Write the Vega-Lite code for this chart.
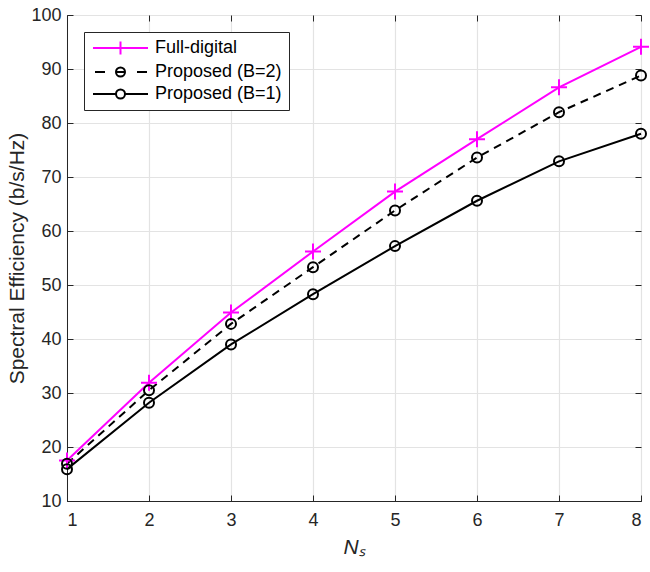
{
  "$schema": "https://vega.github.io/schema/vega-lite/v6.json",
  "width": 574,
  "height": 486,
  "autosize": "none",
  "padding": {"left": 67, "top": 15, "right": 9, "bottom": 71},
  "background": "white",
  "config": {
    "font": "Liberation Sans",
    "view": {"stroke": "#262626", "strokeWidth": 1},
    "axis": {
      "labelFont": "Liberation Sans",
      "labelFontSize": 18,
      "labelColor": "#262626",
      "titleFont": "Liberation Sans",
      "titleColor": "#262626",
      "titleFontWeight": "normal",
      "domainColor": "#262626",
      "tickColor": "#262626",
      "gridColor": "#e3e3e3",
      "gridWidth": 1.2
    }
  },
  "data": {
    "values": [
      {"series": "Full-digital", "ns": 1, "se": 17.5},
      {"series": "Full-digital", "ns": 2, "se": 31.9},
      {"series": "Full-digital", "ns": 3, "se": 44.9},
      {"series": "Full-digital", "ns": 4, "se": 56.2},
      {"series": "Full-digital", "ns": 5, "se": 67.3},
      {"series": "Full-digital", "ns": 6, "se": 77.0},
      {"series": "Full-digital", "ns": 7, "se": 86.6},
      {"series": "Full-digital", "ns": 8, "se": 94.1},
      {"series": "Proposed (B=2)", "ns": 1, "se": 16.9},
      {"series": "Proposed (B=2)", "ns": 2, "se": 30.5},
      {"series": "Proposed (B=2)", "ns": 3, "se": 42.8},
      {"series": "Proposed (B=2)", "ns": 4, "se": 53.3},
      {"series": "Proposed (B=2)", "ns": 5, "se": 63.8},
      {"series": "Proposed (B=2)", "ns": 6, "se": 73.6},
      {"series": "Proposed (B=2)", "ns": 7, "se": 82.0},
      {"series": "Proposed (B=2)", "ns": 8, "se": 88.8},
      {"series": "Proposed (B=1)", "ns": 1, "se": 15.9},
      {"series": "Proposed (B=1)", "ns": 2, "se": 28.2},
      {"series": "Proposed (B=1)", "ns": 3, "se": 39.0},
      {"series": "Proposed (B=1)", "ns": 4, "se": 48.3},
      {"series": "Proposed (B=1)", "ns": 5, "se": 57.2},
      {"series": "Proposed (B=1)", "ns": 6, "se": 65.6},
      {"series": "Proposed (B=1)", "ns": 7, "se": 72.9},
      {"series": "Proposed (B=1)", "ns": 8, "se": 78.0}
    ]
  },
  "resolve": {"axis": {"x": "independent", "y": "independent"}},
  "layer": [
    {
      "transform": [{"filter": "datum.series != 'Proposed (B=2)'"}],
      "mark": {"type": "line", "strokeWidth": 2},
      "encoding": {
        "x": {
          "field": "ns", "type": "quantitative",
          "scale": {"domain": [1, 8], "nice": false, "zero": false},
          "axis": {"orient": "bottom", "values": [1,2,3,4,5,6,7,8], "format": "d", "tickSize": -6, "labelPadding": 16, "title": "Nₛ", "titleFontSize": 21, "titleFontStyle": "italic", "titlePadding": 7, "grid": true}
        },
        "y": {
          "field": "se", "type": "quantitative",
          "scale": {"domain": [10, 100], "nice": false, "zero": false},
          "axis": {"orient": "left", "values": [10,20,30,40,50,60,70,80,90,100], "format": "d", "tickSize": -6, "labelPadding": 12, "title": "Spectral Efficiency (b/s/Hz)", "titleFontSize": 21, "titlePadding": 3, "grid": true}
        },
        "color": {
          "field": "series", "type": "nominal",
          "scale": {"domain": ["Full-digital", "Proposed (B=2)", "Proposed (B=1)"], "range": ["#ff00ff", "#000000", "#000000"]},
          "legend": {
            "title": null,
            "orient": "none",
            "legendX": 17,
            "legendY": 17,
            "strokeColor": "#262626",
            "fillColor": "white",
            "padding": 7,
            "labelFont": "Liberation Sans",
            "labelFontSize": 18,
            "labelColor": "#000000",
            "labelOffset": 46,
            "rowPadding": 4,
            "symbolSize": 4,
            "symbolStrokeWidth": 2,
            "encode": {
              "symbols": {
                "update": {
                  "shape": {"signal": "datum.value == 'Full-digital' ? 'M-7,0H48M20.5,-6.5V6.5' : (datum.value == 'Proposed (B=2)' ? 'M-5,0H5M37,0H47M25,0A4.5,4.5 0 1,1 16,0A4.5,4.5 0 1,1 25,0M16,0H25' : 'M-7,0H16M25,0H48M25,0A4.5,4.5 0 1,1 16,0A4.5,4.5 0 1,1 25,0')"},
                  "fill": {"value": "transparent"},
                  "stroke": {"signal": "datum.value == 'Full-digital' ? '#ff00ff' : '#000000'"},
                  "strokeWidth": {"value": 2},
                  "size": {"value": 4},
                  "opacity": {"value": 1}
                }
              }
            }
          }
        }
      }
    },
    {
      "transform": [{"filter": "datum.series == 'Proposed (B=2)'"}],
      "mark": {"type": "line", "strokeWidth": 2, "strokeDash": [8, 6]},
      "encoding": {
        "x": {"field": "ns", "type": "quantitative", "axis": null},
        "y": {"field": "se", "type": "quantitative", "axis": null},
        "color": {"field": "series", "type": "nominal"}
      }
    },
    {
      "transform": [{"filter": "datum.series == 'Full-digital'"}],
      "mark": {"type": "point", "filled": false, "strokeWidth": 2, "opacity": 1, "color": "#ff00ff", "shape": "M-1,0H1M0,-1V1", "size": 256},
      "encoding": {
        "x": {"field": "ns", "type": "quantitative", "axis": null},
        "y": {"field": "se", "type": "quantitative", "axis": null}
      }
    },
    {
      "transform": [{"filter": "datum.series != 'Full-digital'"}],
      "mark": {"type": "point", "filled": false, "strokeWidth": 2, "opacity": 1, "color": "#000000", "shape": "circle", "size": 100},
      "encoding": {
        "x": {"field": "ns", "type": "quantitative", "axis": null},
        "y": {"field": "se", "type": "quantitative", "axis": null}
      }
    },
    {
      "mark": {"type": "point", "opacity": 0},
      "encoding": {
        "x": {"field": "ns", "type": "quantitative", "axis": {"orient": "top", "values": [1,2,3,4,5,6,7,8], "tickSize": -6, "labels": false, "title": null, "grid": false, "domain": false}},
        "y": {"field": "se", "type": "quantitative", "axis": {"orient": "right", "values": [10,20,30,40,50,60,70,80,90,100], "tickSize": -6, "labels": false, "title": null, "grid": false, "domain": false}}
      }
    }
  ]
}
